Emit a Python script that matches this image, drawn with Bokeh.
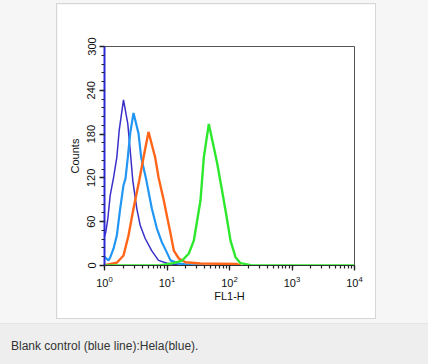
from bokeh.plotting import figure
from bokeh.models import Range1d, LogTicker, SingleIntervalTicker, Div
from bokeh.layouts import column
from bokeh.embed import file_html
from bokeh.resources import INLINE

# --- data (log10 of FL1-H, counts) ---
blank_log = [0.0, 0.021, 0.053, 0.091, 0.144, 0.197, 0.235, 0.304, 0.373, 0.421, 0.453, 0.517, 0.571, 0.651, 0.757, 0.864, 1.0, 1.2, 1.5]
blank_cnt = [40, 46, 64, 96, 120, 148, 185, 227, 194, 148, 116, 78, 55, 37, 20, 7, 3, 0.5, 0]

hela_log = [0.0, 0.011, 0.064, 0.091, 0.144, 0.197, 0.251, 0.304, 0.336, 0.373, 0.411, 0.464, 0.544, 0.587, 0.664, 0.757, 0.837, 0.917, 0.997, 1.056, 1.17, 1.38, 1.6]
hela_cnt = [12, 11, 7, 11, 23, 41, 78, 110, 119, 148, 181, 209, 181, 148, 119, 78, 51, 32, 18, 7, 3, 0.5, 0]

orange_log = [0.0, 0.197, 0.304, 0.384, 0.464, 0.555, 0.624, 0.704, 0.811, 0.864, 0.949, 1.003, 1.056, 1.109, 1.189, 1.296, 1.536, 2.12, 2.18]
orange_cnt = [0.5, 3.7, 13.7, 41, 78, 116, 148, 183, 148, 121, 89, 66, 44, 20.5, 9.6, 4.5, 2.7, 2, 0]

green_log = [0.0, 0.9, 1.104, 1.243, 1.349, 1.429, 1.483, 1.536, 1.589, 1.669, 1.803, 1.909, 1.963, 2.016, 2.096, 2.176, 2.34, 4.0]
green_cnt = [0, 0.5, 3.2, 6.8, 16.4, 34, 62, 89, 148, 194, 140, 89, 62, 34, 11.4, 3.2, 0.5, 0]

y_tick_step = 60
caption = "Blank control (blue line):Hela(blue)."

def to_lin(vals):
    return [10 ** v for v in vals]

p = figure(width=318, height=314, output_backend="svg", toolbar_location=None,
           x_axis_type="log", x_range=Range1d(1, 10 ** 4), y_range=Range1d(0, 300),
           min_border_left=47, min_border_right=21, min_border_top=42, min_border_bottom=53)
p.margin = (4, 53, 5, 57)
p.styles = {"outline": "1px solid #d6d6d6"}

p.border_fill_color = "white"
p.background_fill_color = "white"
p.outline_line_color = "#555555"
p.outline_line_width = 1
p.grid.visible = False

p.line(to_lin(blank_log), blank_cnt, line_color="#3a30c8", line_width=1.5)
p.line(to_lin(hela_log), hela_cnt, line_color="#2196f3", line_width=2.2)
p.line(to_lin(orange_log), orange_cnt, line_color="#ff661a", line_width=2.4)
p.line(to_lin(green_log), green_cnt, line_color="#2ee82e", line_width=2.4)

# axes
p.xaxis.ticker = LogTicker(desired_num_ticks=5, num_minor_ticks=10)
p.yaxis.ticker = SingleIntervalTicker(interval=y_tick_step, num_minor_ticks=5)
p.xaxis.axis_label = "FL1-H"
p.yaxis.axis_label = "Counts"
for ax in (p.xaxis[0], p.yaxis[0]):
    ax.axis_label_text_font = "Liberation Sans"
    ax.axis_label_text_font_style = "normal"
    ax.axis_label_text_font_size = "11px"
    ax.axis_label_text_color = "#111111"
    ax.major_label_text_font = "Liberation Sans"
    ax.major_label_text_font_size = "11px"
    ax.major_label_text_color = "#111111"
    ax.major_tick_in = 0
    ax.major_tick_out = 5
    ax.minor_tick_in = 0
    ax.minor_tick_out = 3
    ax.major_tick_line_color = "#222222"
    ax.minor_tick_line_color = "#222222"
    ax.major_tick_line_width = 1.3
    ax.minor_tick_line_width = 1.2
p.yaxis.axis_line_color = "#2a2ad8"
p.yaxis.axis_line_width = 2
p.xaxis.axis_line_color = "#333333"
p.yaxis.major_label_orientation = "vertical"
p.yaxis.major_label_standoff = 4
p.yaxis.axis_label_standoff = 4
p.xaxis.major_label_standoff = 5
p.xaxis.axis_label_standoff = 0

cap = Div(text=f'<div style="padding:14px 0 0 11px;">{caption}</div>',
          width=428, height=41,
          styles={"background-color": "#eeeeee", "border-top": "1px solid #e4e4e4",
                  "font-family": "'Liberation Sans', Arial, sans-serif",
                  "font-size": "12px", "color": "#333333"})
cap.margin = (0, 0, 0, 0)

layout = column(p, cap, spacing=0, styles={"background-color": "#f6f6f6"})
layout.margin = (0, 0, 0, 0)

open("out.html", "w").write(file_html(layout, INLINE))
